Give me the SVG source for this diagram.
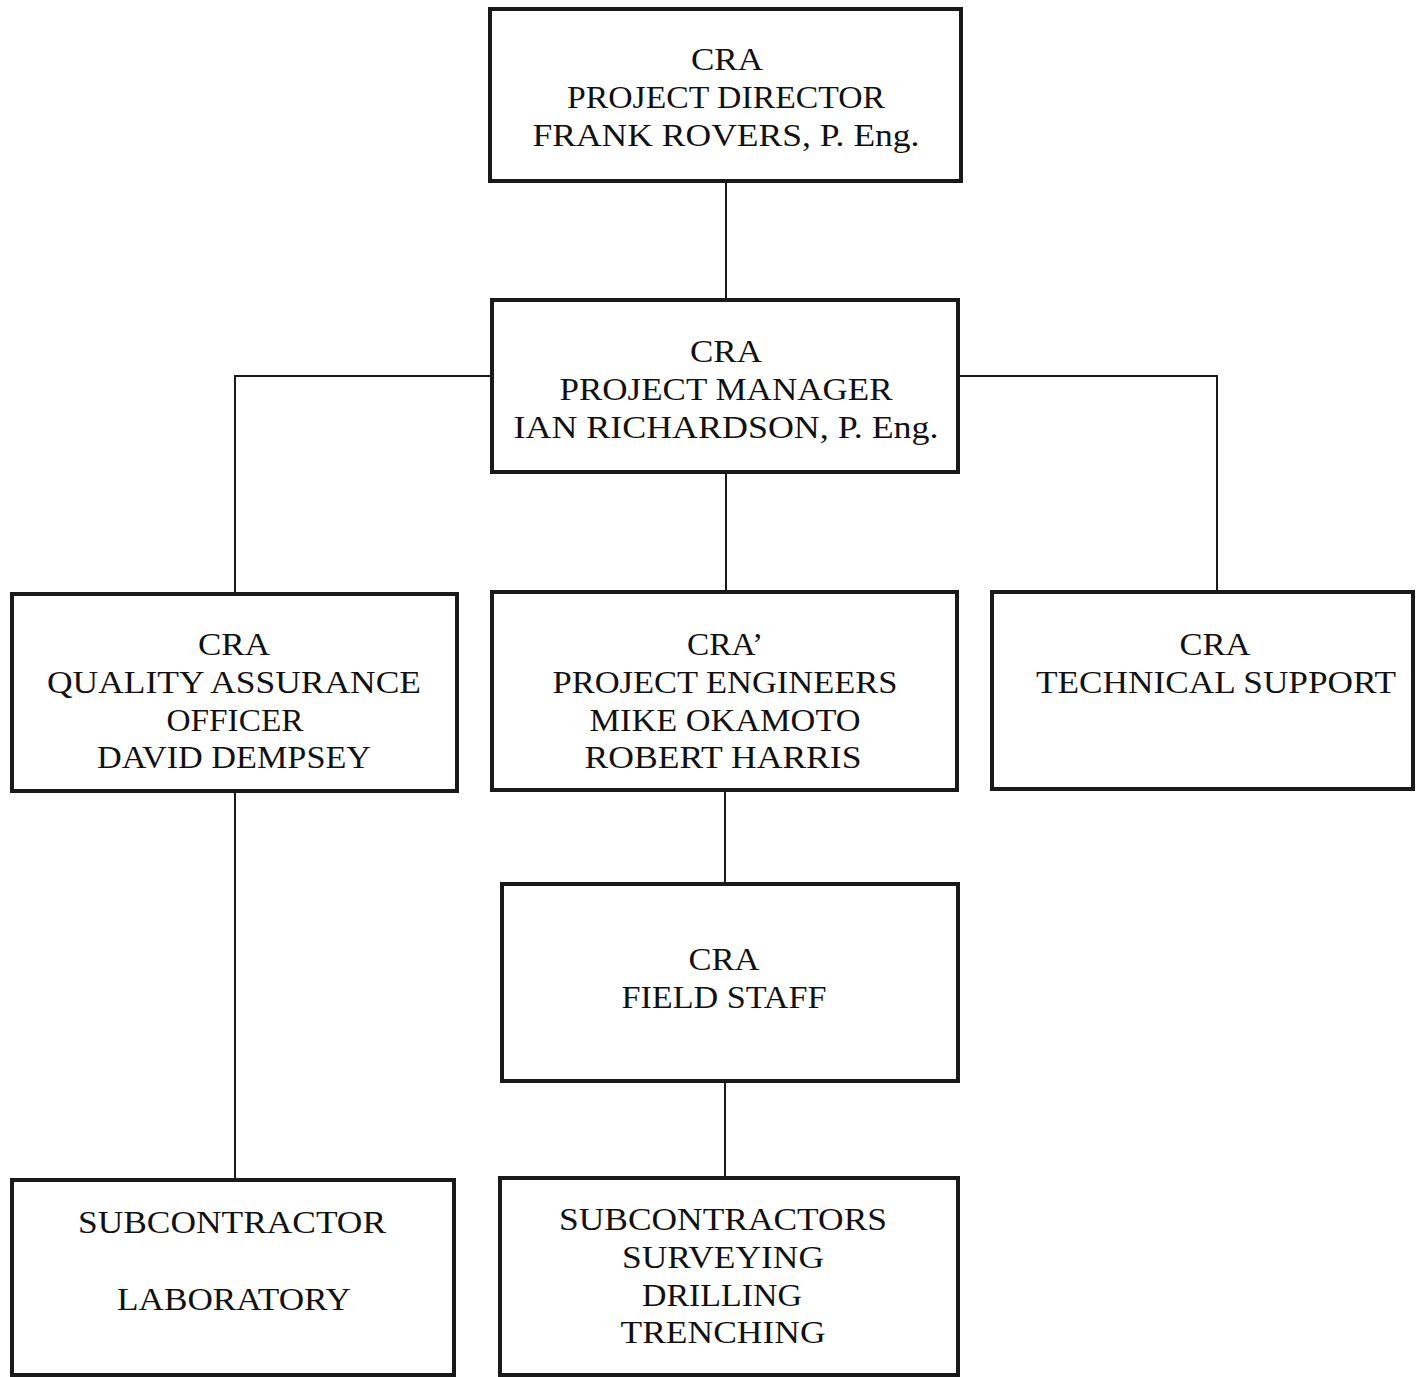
<svg xmlns="http://www.w3.org/2000/svg" width="1421" height="1377" viewBox="0 0 1421 1377">
<style>
.box{fill:#fff;stroke:#1a1a1a;stroke-width:4}
.t{font-family:"Liberation Serif","Times New Roman",serif;font-size:32px;fill:#111;text-anchor:middle}
.c{fill:none;stroke:#1a1a1a;stroke-width:2}
</style>
<rect width="1421" height="1377" fill="#fff"/>
<g id="connectors">
<line class="c" x1="726" y1="181" x2="726" y2="300"/>
<polyline class="c" points="492,376 235,376 235,594"/>
<polyline class="c" points="958,376 1217,376 1217,592"/>
<line class="c" x1="726" y1="472" x2="726" y2="592"/>
<line class="c" x1="725" y1="790" x2="725" y2="884"/>
<line class="c" x1="725" y1="1081" x2="725" y2="1178"/>
<line class="c" x1="235" y1="791" x2="235" y2="1180"/>
</g>
<g id="director">
<rect class="box" x="490" y="9" width="471" height="172"/>
<text class="t" x="727" y="70" textLength="72" lengthAdjust="spacingAndGlyphs">CRA</text>
<text class="t" x="726" y="108" textLength="318" lengthAdjust="spacingAndGlyphs">PROJECT DIRECTOR</text>
<text class="t" x="726" y="146" textLength="387" lengthAdjust="spacingAndGlyphs">FRANK ROVERS, P. Eng.</text>
</g>
<g id="manager">
<rect class="box" x="492" y="300" width="466" height="172"/>
<text class="t" x="726" y="362" textLength="72" lengthAdjust="spacingAndGlyphs">CRA</text>
<text class="t" x="726" y="400" textLength="333" lengthAdjust="spacingAndGlyphs">PROJECT MANAGER</text>
<text class="t" x="726" y="438" textLength="425" lengthAdjust="spacingAndGlyphs">IAN RICHARDSON, P. Eng.</text>
</g>
<g id="qa">
<rect class="box" x="12" y="594" width="445" height="197"/>
<text class="t" x="234" y="655" textLength="72" lengthAdjust="spacingAndGlyphs">CRA</text>
<text class="t" x="234" y="693" textLength="374" lengthAdjust="spacingAndGlyphs">QUALITY  ASSURANCE</text>
<text class="t" x="235" y="731" textLength="137" lengthAdjust="spacingAndGlyphs">OFFICER</text>
<text class="t" x="234" y="768" textLength="274" lengthAdjust="spacingAndGlyphs">DAVID DEMPSEY</text>
</g>
<g id="engineers">
<rect class="box" x="492" y="592" width="465" height="198"/>
<text class="t" x="725" y="655" textLength="76" lengthAdjust="spacingAndGlyphs">CRA’</text>
<text class="t" x="725" y="693" textLength="345" lengthAdjust="spacingAndGlyphs">PROJECT ENGINEERS</text>
<text class="t" x="725" y="731" textLength="271" lengthAdjust="spacingAndGlyphs">MIKE OKAMOTO</text>
<text class="t" x="723" y="768" textLength="277" lengthAdjust="spacingAndGlyphs">ROBERT  HARRIS</text>
</g>
<g id="technical">
<rect class="box" x="992" y="592" width="421" height="197"/>
<text class="t" x="1215" y="655" textLength="71" lengthAdjust="spacingAndGlyphs">CRA</text>
<text class="t" x="1216" y="693" textLength="360" lengthAdjust="spacingAndGlyphs">TECHNICAL SUPPORT</text>
</g>
<g id="fieldstaff">
<rect class="box" x="502" y="884" width="456" height="197"/>
<text class="t" x="724" y="970" textLength="71" lengthAdjust="spacingAndGlyphs">CRA</text>
<text class="t" x="724" y="1008" textLength="205" lengthAdjust="spacingAndGlyphs">FIELD STAFF</text>
</g>
<g id="laboratory">
<rect class="box" x="12" y="1180" width="442" height="195"/>
<text class="t" x="232" y="1233" textLength="308" lengthAdjust="spacingAndGlyphs">SUBCONTRACTOR</text>
<text class="t" x="234" y="1310" textLength="234" lengthAdjust="spacingAndGlyphs">LABORATORY</text>
</g>
<g id="subcontractors">
<rect class="box" x="500" y="1178" width="458" height="197"/>
<text class="t" x="723" y="1230" textLength="328" lengthAdjust="spacingAndGlyphs">SUBCONTRACTORS</text>
<text class="t" x="723" y="1268" textLength="202" lengthAdjust="spacingAndGlyphs">SURVEYING</text>
<text class="t" x="722" y="1306" textLength="160" lengthAdjust="spacingAndGlyphs">DRILLING</text>
<text class="t" x="723" y="1343" textLength="205" lengthAdjust="spacingAndGlyphs">TRENCHING</text>
</g>
</svg>
